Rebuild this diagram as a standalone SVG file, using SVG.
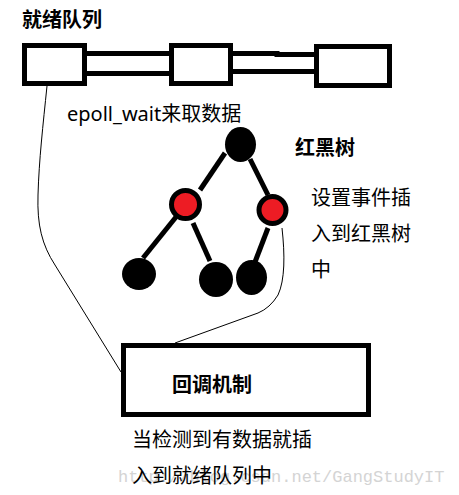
<svg xmlns="http://www.w3.org/2000/svg" width="459" height="495" viewBox="0 0 459 495">
<style>
.box{fill:#fff;stroke:#000;stroke-width:5}
.bar{stroke:#000;stroke-width:5;fill:none}
.edge{stroke:#000;stroke-width:5;fill:none}
.thin{stroke:#000;stroke-width:1;fill:none}
.blk{fill:#000}
.red{fill:#ed1c24;stroke:#000;stroke-width:5}
.t{font-family:"Noto Sans","Noto Sans CJK SC",sans-serif;font-size:20px;fill:#000}
.b{font-weight:bold}
.wm{font-family:"Liberation Mono",monospace;font-size:17px;fill:#d4d4d4}
</style>
<rect width="459" height="495" fill="#fff"/>
<text class="wm" x="118" y="482">http://blog.csdn.net/GangStudyIT</text>
<g id="connectors">
<line class="bar" x1="85" y1="53.5" x2="171" y2="53.5"/>
<line class="bar" x1="85" y1="73.5" x2="171" y2="73.5"/>
<path class="bar" d="M231,53.5 L277,53.5 L277,54.5 L316,54.5"/>
<line class="bar" x1="231" y1="71.5" x2="316" y2="71.5"/>
<line class="edge" x1="225" y1="153" x2="200" y2="190"/>
<line class="edge" x1="250" y1="159" x2="268" y2="195"/>
<line class="edge" x1="176" y1="217" x2="143" y2="258"/>
<line class="edge" x1="193" y1="223" x2="210" y2="261"/>
<line class="edge" x1="268" y1="228" x2="255" y2="262"/>
<path class="thin" d="M47,86 C43,125 39,160 38,195 C37,225 42,245 55,265 L121,372"/>
<path class="thin" d="M282,228 C285,255 285,280 278,295 Q270,308 258,313 L175,343"/>
</g>
<g id="ready-queue-label"><text class="t b" x="22" y="27">就绪队列</text></g>
<g id="q1"><rect class="box" x="24.5" y="45.5" width="60" height="38"/></g>
<g id="q2"><rect class="box" x="171.5" y="45.5" width="59" height="38"/></g>
<g id="q3"><rect class="box" x="316.5" y="46.5" width="73" height="39"/></g>
<g id="epoll-label"><text class="t" x="67" y="121">epoll_wait来取数据</text></g>
<g id="rb-label"><text class="t b" x="295" y="155">红黑树</text></g>
<g id="rb-desc">
<text class="t" x="311" y="205">设置事件插</text>
<text class="t" x="311" y="241">入到红黑树</text>
<text class="t" x="311" y="277">中</text>
</g>
<g id="root"><ellipse class="blk" cx="240.5" cy="144.5" rx="15.5" ry="17.5"/></g>
<g id="red-left"><circle class="red" cx="185.5" cy="204.5" r="14"/></g>
<g id="red-right"><circle class="red" cx="272.5" cy="210" r="13.5"/></g>
<g id="leaf1"><ellipse class="blk" cx="139" cy="274" rx="17" ry="16"/></g>
<g id="leaf2"><ellipse class="blk" cx="216" cy="279.5" rx="17" ry="17.5"/></g>
<g id="leaf3"><ellipse class="blk" cx="251.5" cy="277.5" rx="15.5" ry="17.5"/></g>
<g id="callback"><rect class="box" x="123.5" y="345.5" width="245" height="69"/>
<text class="t b" x="172" y="392">回调机制</text></g>
<g id="callback-desc">
<text class="t" x="132" y="447">当检测到有数据就插</text>
<text class="t" x="132" y="483">入到就绪队列中</text>
</g>
</svg>
